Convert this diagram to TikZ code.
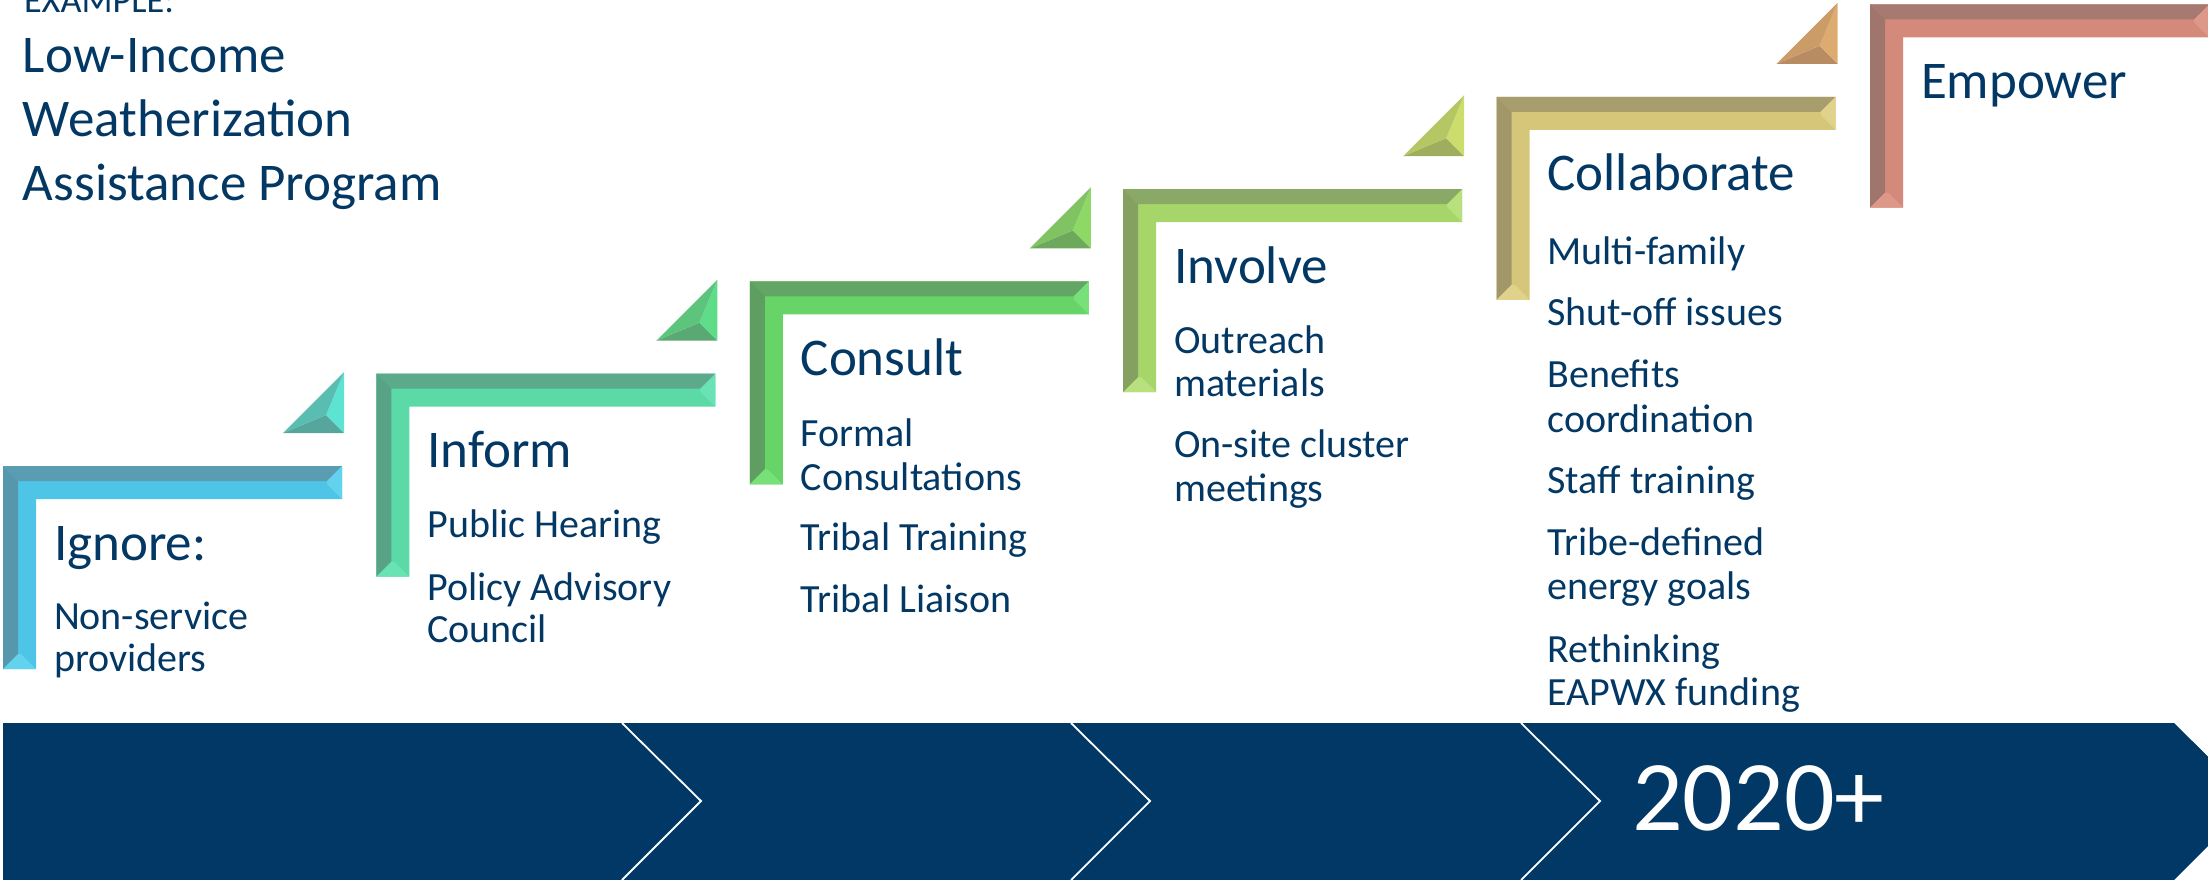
\documentclass[tikz,border=0pt]{standalone}
\usepackage{fontspec}
\usepackage{graphicx}
\setmainfont{Carlito}
\usetikzlibrary{calc}
\definecolor{navy}{RGB}{4,56,100}
\definecolor{bandblue}{RGB}{1,56,101}
% step colours: face, dark facet, end facet
\definecolor{aFace}{HTML}{4EC4E7}\definecolor{aDark}{HTML}{5A9DB3}\definecolor{aEnd}{HTML}{62D2EE}
\definecolor{bFace}{HTML}{5BD9A6}\definecolor{bDark}{HTML}{5CA98B}\definecolor{bEnd}{HTML}{6AE3B4}
\definecolor{cFace}{HTML}{66D466}\definecolor{cDark}{HTML}{62A565}\definecolor{cEnd}{HTML}{78E078}
\definecolor{dFace}{HTML}{A6D56A}\definecolor{dDark}{HTML}{8AA866}\definecolor{dEnd}{HTML}{B8E07C}
\definecolor{eFace}{HTML}{D5C67A}\definecolor{eDark}{HTML}{A89D6C}\definecolor{eEnd}{HTML}{E0D28A}
\definecolor{fFace}{HTML}{D38A7A}\definecolor{fDark}{HTML}{A67A70}\definecolor{fEnd}{HTML}{DE9888}
% triangle colours: bright, mid, dark
\definecolor{taB}{HTML}{5CE3D1}\definecolor{taM}{HTML}{5ABDB2}\definecolor{taD}{HTML}{57A69D}
\definecolor{tbB}{HTML}{5EDC87}\definecolor{tbM}{HTML}{5CC47D}\definecolor{tbD}{HTML}{5AA873}
\definecolor{tcB}{HTML}{8ED866}\definecolor{tcM}{HTML}{7FC362}\definecolor{tcD}{HTML}{6DA85C}
\definecolor{tdB}{HTML}{CCDD6C}\definecolor{tdM}{HTML}{B5C764}\definecolor{tdD}{HTML}{9EAD5E}
\definecolor{teB}{HTML}{DDAA70}\definecolor{teM}{HTML}{CC9C68}\definecolor{teD}{HTML}{B88C62}
\newcommand{\bevelL}[3]{%
  \fill[#1] (0,0) -- (339,0) -- (339,33) -- (33,33) -- (33,203) -- (0,203) -- cycle;
  \fill[#2] (0,0) -- (339,0) -- (324,15) -- (15,15) -- cycle;
  \fill[#2!96!black] (0,0) -- (15,15) -- (15,188) -- (0,203) -- cycle;
  \fill[#3] (339,0) -- (339,33) -- (324,18) -- (324,15) -- cycle;
  \fill[#3] (0,203) -- (33,203) -- (18,188) -- (15,188) -- cycle;
}
\newcommand{\bevelT}[3]{%
  \fill[#3] (280,-33) -- (341,-33) -- (323,-51) -- cycle;
  \fill[#1] (341,-33) -- (341,-94) -- (323,-51) -- cycle;
  \fill[#2] (341,-94) -- (280,-33) -- (323,-51) -- cycle;
}
\tikzset{
  txt/.style={anchor=base west, inner sep=0pt, outer sep=0pt, text=navy},
  head/.style={txt, font=\fontsize{53}{63}\selectfont},
  item/.style={txt, font=\fontsize{40}{48}\selectfont},
  chev/.style={draw=white, line width=1.8pt},
}
\begin{document}
\begin{tikzpicture}[x=1pt, y=-1pt]
\useasboundingbox (0,0) rectangle (2208,880);
\clip (0,0) rectangle (2208,880);
% title
\node[txt] (ex) at (24,13) {\resizebox{150pt}{!}{\fontsize{36}{43}\selectfont EXAMPLE:}};
\node[head] (t1) at (23,73) {Low-Income};
\node[head] (t2) at (23,137) {Weatherization};
\node[head] (t3) at (23,200) {Assistance Program};
% steps
\begin{scope}[shift={(3,466)}]\bevelL{aFace}{aDark}{aEnd}\bevelT{taB}{taM}{taD}\end{scope}
\begin{scope}[shift={(376.4,373.7)}]\bevelL{bFace}{bDark}{bEnd}\bevelT{tbB}{tbM}{tbD}\end{scope}
\begin{scope}[shift={(749.8,281.4)}]\bevelL{cFace}{cDark}{cEnd}\bevelT{tcB}{tcM}{tcD}\end{scope}
\begin{scope}[shift={(1123.2,189.1)}]\bevelL{dFace}{dDark}{dEnd}\bevelT{tdB}{tdM}{tdD}\end{scope}
\begin{scope}[shift={(1496.6,96.8)}]\bevelL{eFace}{eDark}{eEnd}\bevelT{teB}{teM}{teD}\end{scope}
\begin{scope}[shift={(1870,4.5)}]\bevelL{fFace}{fDark}{fEnd}\end{scope}
% step 1
\node[head] (h1) at (54,560) {Ignore:};
\node[item] (a1) at (54,629) {Non-service};
\node[item] (a2) at (54,671) {providers};
% step 2
\node[head] (h2) at (427.4,467.7) {Inform};
\node[item] (b1) at (427.4,537) {Public Hearing};
\node[item] (b2) at (427.4,600) {Policy Advisory};
\node[item] (b3) at (427.4,642) {Council};
% step 3
\node[head] (h3) at (800.8,375.4) {Consult};
\node[item] (c1) at (800.8,446) {Formal};
\node[item] (c2) at (800.8,490) {Consultations};
\node[item] (c3) at (800.8,550) {Tribal Training};
\node[item] (c4) at (800.8,612) {Tribal Liaison};
% step 4
\node[head] (h4) at (1174.2,283.1) {Involve};
\node[item] (d1) at (1174.2,353) {Outreach};
\node[item] (d2) at (1174.2,396) {materials};
\node[item] (d3) at (1174.2,457) {On-site cluster};
\node[item] (d4) at (1174.2,501) {meetings};
% step 5
\node[head] (h5) at (1547.6,190.8) {Collaborate};
\node[item] (e1) at (1547.6,264) {Multi-family};
\node[item] (e2) at (1547.6,325) {Shut-off issues};
\node[item] (e3) at (1547.6,387) {Benefits};
\node[item] (e4) at (1547.6,432) {coordination};
\node[item] (e5) at (1547.6,493) {Staff training};
\node[item] (e6) at (1547.6,555) {Tribe-defined};
\node[item] (e7) at (1547.6,599) {energy goals};
\node[item] (e8) at (1547.6,662) {Rethinking};
\node[item] (e9) at (1547.6,705) {EAPWX funding};
% step 6
\node[head] (h6) at (1921,98.5) {Empower};
% bottom band
\fill[bandblue] (3,723) -- (2174,723) -- (2253,801) -- (2174,880) -- (3,880) -- cycle;
\draw[chev] (622,723) -- (701,801) -- (622,880);
\draw[chev] (1071,723) -- (1150,801) -- (1071,880);
\draw[chev] (1521,723) -- (1600,801) -- (1521,880);
\node[txt, text=white, font=\fontsize{100}{120}\selectfont] (yr) at (1632,830) {2020+};
\end{tikzpicture}
\end{document}
